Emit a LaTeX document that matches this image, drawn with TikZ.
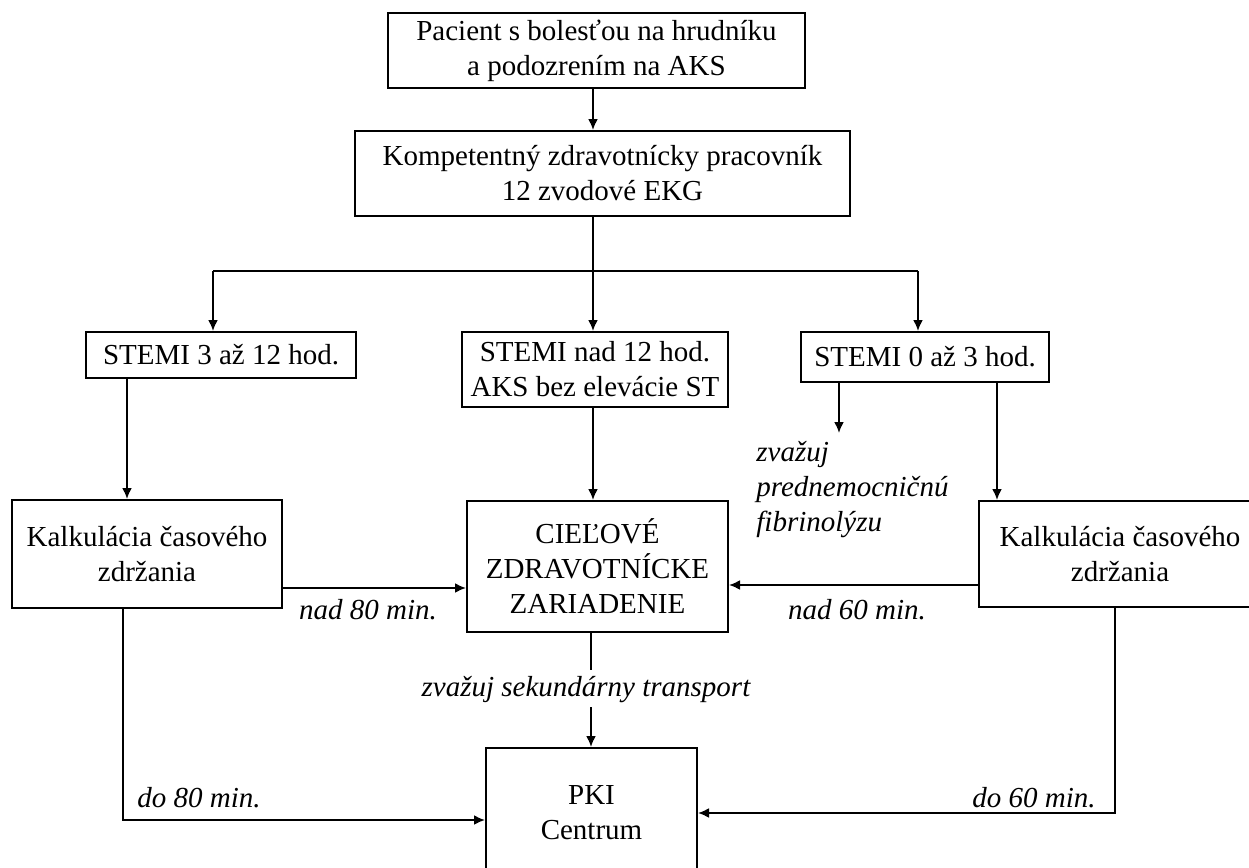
\documentclass[tikz,border=0pt]{standalone}
\usepackage{fontspec}
\setmainfont{Liberation Serif}
\usetikzlibrary{arrows.meta}
\begin{document}
\begin{tikzpicture}[x=0.5pt,y=-0.5pt,
  box/.style={draw,line width=1pt,inner sep=0pt,align=center,font=\fontsize{14.5}{17.5}\selectfont},
  lab/.style={inner sep=0pt,font=\fontsize{14.5}{17.5}\selectfont\itshape},
  arr/.style={line width=1pt,-{Latex[length=5.5pt,width=5pt]}},
  ln/.style={line width=1pt}]
\useasboundingbox (0,0) rectangle (1249,868);

% boxes
\node[box,minimum width=208.5pt,minimum height=37.5pt] (b1) at (596.5,50.5)
  {Pacient s bolesťou na hrudníku\\a podozrením na AKS};
\node[box,minimum width=247.5pt,minimum height=42.5pt] (b2) at (602.5,173.5)
  {Kompetentný zdravotnícky pracovník\\12 zvodové EKG};
\node[box,minimum width=135pt,minimum height=23pt] (s1) at (221,355)
  {STEMI 3 až 12 hod.};
\node[box,minimum width=133pt,minimum height=37.5pt] (s2) at (595,369.5)
  {STEMI nad 12 hod.\\AKS bez elevácie ST};
\node[box,minimum width=124pt,minimum height=25pt] (s3) at (925,357)
  {STEMI 0 až 3 hod.};
\node[box,minimum width=135pt,minimum height=54pt] (k1) at (147,554)
  {Kalkulácia časového\\zdržania};
\node[box,minimum width=130.5pt,minimum height=65.5pt] (c) at (597.5,566.5)
  {CIEĽOVÉ\\ZDRAVOTNÍCKE\\ZARIADENIE};
\node[box,minimum width=141pt,minimum height=53pt] (k2) at (1120,554)
  {Kalkulácia časového\\zdržania};
\node[box,minimum width=105.5pt,minimum height=64.5pt] (pki) at (591.5,812.5)
  {PKI\\Centrum};

% labels
\node[lab,align=left,anchor=north west] (fib) at (756,441)
  {zvažuj\\prednemocničnú\\fibrinolýzu};
\node[lab] (n80) at (368,610) {nad 80 min.};
\node[lab] (n60) at (857,610) {nad 60 min.};
\node[lab] (sek) at (586,690) {zvažuj sekundárny transport};
\node[lab] (d80) at (199,798) {do 80 min.};
\node[lab] (d60) at (1034,798) {do 60 min.};

% coordinates
\coordinate (bus) at (593,271);
\coordinate (busL) at (213,271);
\coordinate (busR) at (918,271);
\coordinate (x1) at (127,0);
\coordinate (x2) at (593,0);
\coordinate (xf) at (839,433);
\coordinate (x3) at (997,0);
\coordinate (h1) at (0,588);
\coordinate (h2) at (0,585);
\coordinate (m1) at (591,670);
\coordinate (m2) at (591,707);
\coordinate (l1) at (123,820);
\coordinate (r1) at (1115,813);

% connectors
\draw[arr] (b1.south -| bus) -- (b2.north -| bus);
\draw[ln] (b2.south -| bus) -- (bus);
\draw[ln] (busL) -- (busR);
\draw[arr] (bus) -- (s2.north -| bus);
\draw[arr] (busL) -- (s1.north -| busL);
\draw[arr] (busR) -- (s3.north -| busR);
\draw[arr] (s1.south -| x1) -- (k1.north -| x1);
\draw[arr] (s2.south -| x2) -- (c.north -| x2);
\draw[arr] (s3.south -| xf) -- (xf);
\draw[arr] (s3.south -| x3) -- (k2.north -| x3);
\draw[arr] (k1.east |- h1) -- (c.west |- h1);
\draw[arr] (k2.west |- h2) -- (c.east |- h2);
\draw[ln] (c.south -| m1) -- (m1);
\draw[arr] (m2) -- (pki.north -| m2);
\draw[arr] (k1.south -| l1) -- (l1) -- (pki.west |- l1);
\draw[arr] (k2.south -| r1) -- (r1) -- (pki.east |- r1);
\end{tikzpicture}
\end{document}
